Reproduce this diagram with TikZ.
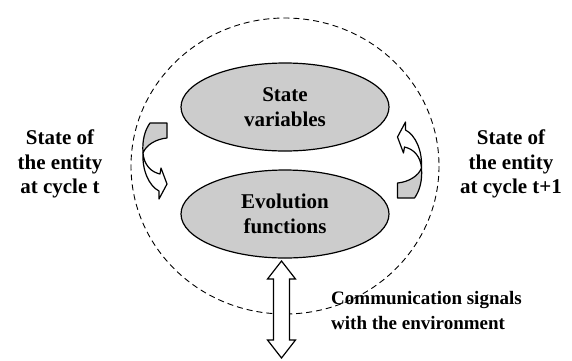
\documentclass[tikz,border=0pt]{standalone}
\usepackage{fontspec}
\setmainfont{Liberation Serif}
\usetikzlibrary{shapes.geometric,calc}
\begin{document}
\begin{tikzpicture}[x=1pt,y=-1pt,
  lbl/.style={font=\fontsize{21}{24.5}\selectfont\bfseries, align=center, inner sep=0pt},
  blob/.style={ellipse, draw, line width=1.2pt, fill=gray!40, minimum width=208pt, minimum height=88pt, inner sep=0pt,
    font=\fontsize{21}{25}\selectfont\bfseries, align=center},
  boundary/.style={draw, dash pattern=on 6pt off 4pt, line width=0.9pt},
  backface/.style={draw, fill=gray!40, line width=1.2pt, line join=round},
  frontface/.style={draw, fill=white, line width=1.2pt, line join=round},
  bigarrow/.style={draw, fill=white, line width=1.2pt, line join=miter}]
\useasboundingbox (0,0) rectangle (572,360);
% entity boundary
\coordinate (c) at (285,166);
\draw[boundary] (c) ellipse[x radius=154, y radius=148];
% state & evolution
\node[blob] (sv) at (285,107) {State\\variables};
\node[blob] (ef) at (285,214) {Evolution\\functions};
% curved arrow (left)
\newcommand{\curvedarrow}{%
  \path[backface] (150,123) -- (167,123) -- (167,138)
     .. controls (156,139) and (146,145) .. (143,153)
     .. controls (142,140) and (145,130) .. (150,123) -- cycle;
  \path[frontface] (143,153) .. controls (142,170) and (149,186) .. (159,191)
     -- (159,199) -- (167,184) -- (161,168) -- (160,174)
     .. controls (151,172) and (144,165) .. (143,153) -- cycle;}
\curvedarrow
\begin{scope}[shift={(409.5,160)}, rotate=180, shift={(-155,-161)}]
\curvedarrow
\end{scope}
% communication double arrow
\coordinate (a1) at (281.5,261);
\coordinate (a2) at (281.5,358);
\path[bigarrow] (a1) -- ++(14,18) -- ++(-6,0) -- ($(a2)+(8,-18)$) -- ++(6,0) -- (a2)
  -- ++(-14,-18) -- ++(6,0) -- ($(a1)+(-8,18)$) -- ++(-6,0) -- cycle;
% labels
\node[lbl] (lt) at (60,164) {State of\\the entity\\at cycle t};
\node[lbl] (rt) at (511,164) {State of\\the entity\\at cycle t+1};
\node[lbl, align=left, anchor=west, font=\fontsize{19}{25}\selectfont\bfseries] (cs) at (331,310) {Communication signals\\with the environment};
\end{tikzpicture}
\end{document}
